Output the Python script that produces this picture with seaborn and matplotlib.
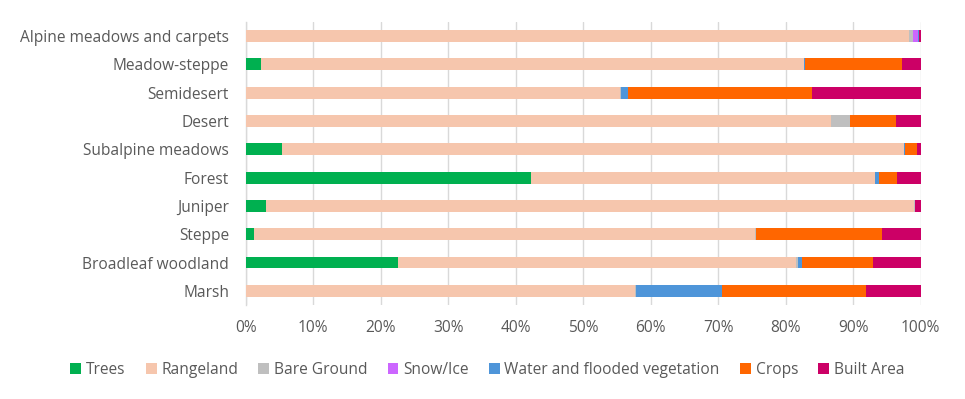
import numpy as np
import pandas as pd
import matplotlib
matplotlib.use("Agg")
import matplotlib.pyplot as plt
import seaborn as sns
from matplotlib.patches import Patch
from matplotlib.ticker import PercentFormatter

categories = ["Alpine meadows and carpets", "Meadow-steppe", "Semidesert", "Desert",
              "Subalpine meadows", "Forest", "Juniper", "Steppe",
              "Broadleaf woodland", "Marsh"]

trees     = [0.0, 2.3, 0.0, 0.0, 5.4, 42.2, 3.0, 1.3, 22.5, 0.0]
rangeland = [98.3, 80.4, 55.4, 86.7, 92.1, 51.0, 96.0, 74.2, 59.0, 57.7]
bare      = [0.55, 0.0, 0.2, 2.8, 0.0, 0.0, 0.1, 0.1, 0.3, 0.2]
snow      = [0.75, 0.0, 0.0, 0.0, 0.0, 0.0, 0.0, 0.0, 0.0, 0.0]
water     = [0.15, 0.2, 1.0, 0.0, 0.2, 0.6, 0.0, 0.0, 0.6, 12.6]
crops     = [0.0, 14.35, 27.3, 6.9, 1.7, 2.7, 0.1, 18.7, 10.6, 21.4]
built     = [0.25, 2.75, 16.1, 3.6, 0.6, 3.5, 0.8, 5.7, 7.0, 8.1]

series_names = ["Trees", "Rangeland", "Bare Ground", "Snow/Ice",
                "Water and flooded vegetation", "Crops", "Built Area"]
series = [trees, rangeland, bare, snow, water, crops, built]
colors = ["#00B050", "#F6C6AD", "#BFBFBF", "#CC66FF", "#4E95D9", "#FF6600", "#CC0066"]

df = pd.DataFrame({n: v for n, v in zip(series_names, series)}, index=categories)
cum = df.cumsum(axis=1) / 100.0

sns.set_theme(style="white")
plt.rcParams['font.family'] = ['Open Sans', 'DejaVu Sans']
txt = "#595959"
fs = 11.2

fig = plt.figure(figsize=(9.65, 3.99), dpi=100)
ax = fig.add_axes([0.2546, 0.2356, 0.954 - 0.2546, 0.945 - 0.2356])

for name, col in reversed(list(zip(series_names, colors))):
    d = pd.DataFrame({"cat": categories, "val": cum[name].values})
    sns.barplot(data=d, y="cat", x="val", orient="h", color=col, width=0.42,
                saturation=1, ax=ax, order=categories, zorder=3, linewidth=0)

ax.set_xlim(0, 1)
ax.set_xticks(np.arange(0, 1.01, 0.1))
ax.xaxis.set_major_formatter(PercentFormatter(1.0, decimals=0))
ax.grid(axis="x", color="#D9D9D9", linewidth=1, zorder=0)
ax.set_axisbelow(True)
for s in ["top", "right", "bottom"]:
    ax.spines[s].set_visible(False)
ax.spines["left"].set_color("#D9D9D9")
ax.spines["left"].set_linewidth(1)
ax.set_xlabel("")
ax.set_ylabel("")
ax.set_ylim(9.5, -0.5)
ax.tick_params(axis="both", length=0, colors=txt, labelsize=fs)
ax.tick_params(axis="x", pad=11)
ax.tick_params(axis="y", pad=12)

handles = [Patch(facecolor=c, edgecolor="none") for c in colors]
fig.legend(handles, series_names, loc="center", bbox_to_anchor=(0.505, 0.073),
           ncol=7, frameon=False, fontsize=fs, labelcolor=txt,
           handlelength=0.7, handleheight=0.7, handletextpad=0.3, columnspacing=1.3)

fig.savefig("out.png", dpi=100)
